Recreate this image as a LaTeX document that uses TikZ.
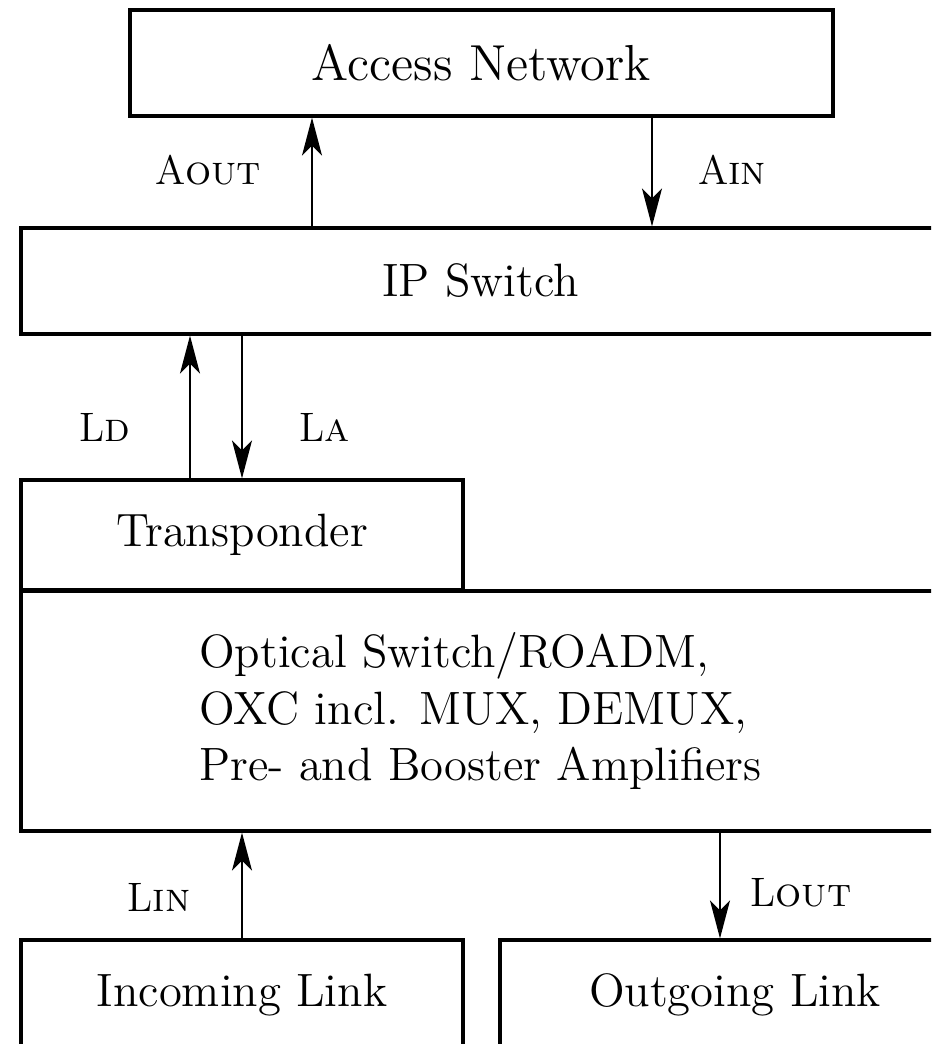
\documentclass[tikz,border=0pt]{standalone}
\usepackage{fontspec}
\usetikzlibrary{arrows.meta}
\tikzset{
  blk/.style={rectangle,draw=black,line width=0.9pt,inner sep=0pt,font=\fontsize{13.3}{16.2}\selectfont},
  lbl/.style={inner sep=0pt,font=\fontsize{11.7}{14}\selectfont},
  flow/.style={->,semithick}
}

\begin{document}
\begin{tikzpicture}[>={Stealth[length=3.8mm,width=2mm,inset=1mm]}]
\useasboundingbox (0,0) rectangle (9.31,-10.44);
\clip (0,0) rectangle (9.31,-10.44);

%boxes
\node[blk, minimum width=7.03cm, minimum height=1.06cm, font=\fontsize{14.4}{17}\selectfont] (acc) at (4.815,-0.63) {Access Network};
\node[blk, minimum width=9.19cm, minimum height=1.06cm] (ip)    at (4.805,-2.81) {IP Switch};
\node[blk, minimum width=4.42cm, minimum height=1.10cm] (trans) at (2.42,-5.35)  {Transponder};
\node[blk, minimum width=9.19cm, minimum height=2.40cm, align=left] (opt) at (4.805,-7.11)
     {Optical Switch/ROADM,\\OXC incl. MUX, DEMUX,\\Pre- and Booster Amplifiers};
\node[blk, minimum width=4.42cm, minimum height=1.10cm] (inc)   at (2.42,-9.95)  {Incoming Link};
\node[blk, minimum width=4.70cm, minimum height=1.10cm] (outl)  at (7.35,-9.95)  {Outgoing Link};

%arrows
\draw [flow] (ip.north -| 3.12,0)   -- (acc.south -| 3.12,0);   %A out
\draw [flow] (acc.south -| 6.52,0)  -- (ip.north -| 6.52,0);    %A in
\draw [flow] (trans.north -| 1.90,0) -- (ip.south -| 1.90,0);   %L d
\draw [flow] (ip.south -| trans.north) -- (trans.north);        %L a
\draw [flow] (inc.north) -- (opt.south -| inc.north);           %L in
\draw [flow] (opt.south -| 7.20,0)  -- (outl.north -| 7.20,0);  %L out

%labels
\node[lbl] (aout) at (2.08,-1.70) {A{\scshape out}};
\node[lbl] (ain)  at (7.32,-1.70) {A{\scshape in}};
\node[lbl] (ld)   at (1.05,-4.27) {L{\scshape d}};
\node[lbl] (la)   at (3.25,-4.27) {L{\scshape a}};
\node[lbl] (lin)  at (1.59,-8.97) {L{\scshape in}};
\node[lbl] (lout) at (8.01,-8.93) {L{\scshape out}};
\end{tikzpicture}
\end{document}
